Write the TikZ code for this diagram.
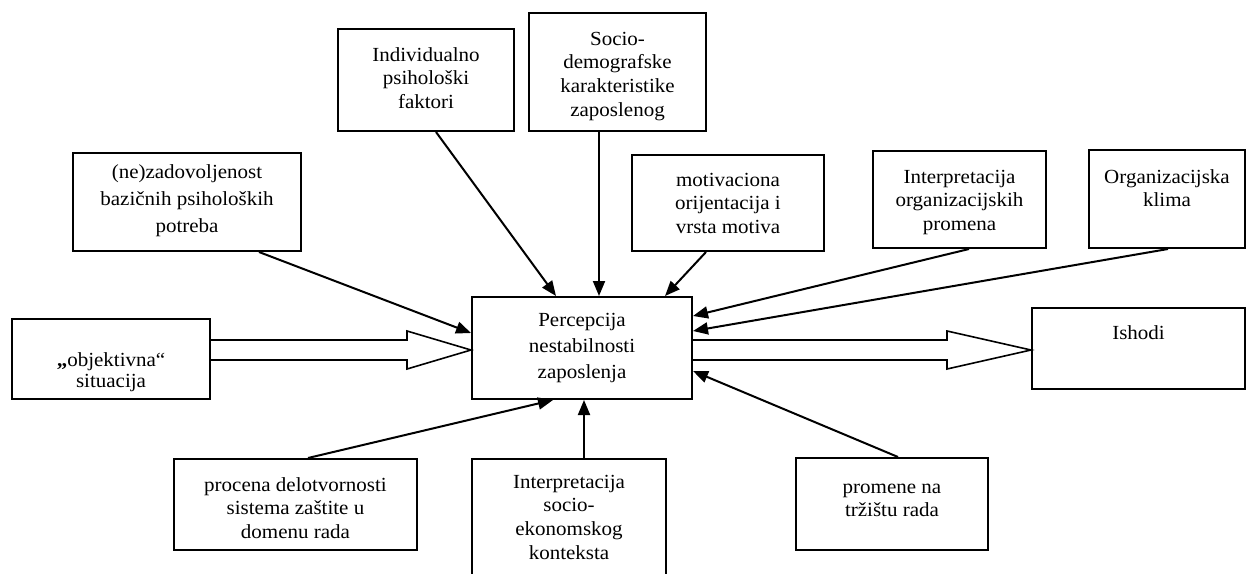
\documentclass[tikz,border=0pt]{standalone}
\usepackage{fontspec}
\setmainfont{Liberation Serif}[FakeStretch=1.05]
\usetikzlibrary{arrows.meta,calc}
% box text: [line spacing]{width}{height}{first baseline from top}{lines}
\newcommand{\bt}[5][23.7]{\parbox[c][#3pt][t]{#2pt}{\fontsize{20pt}{#1pt}\selectfont\centering\vspace*{\dimexpr#4pt-15pt\relax}\rule{0pt}{15pt}#5}}
\begin{document}
\begin{tikzpicture}[x=1pt,y=-1pt,
  bx/.style={draw, line width=2pt, inner sep=0pt, anchor=north west, fill=white},
  link/.style={line width=2pt, -{Triangle[length=15pt,width=12pt]}},
  hollow/.style={line width=1.6pt, line join=miter}]
\useasboundingbox (0,0) rectangle (1246,573);
\clip (0,0) rectangle (1246,573);

% boxes
\node[bx] (indiv) at (337,28) {\bt{176}{102}{32}{Individualno\\psihološki\\faktori}};
\node[bx] (socdem) at (528,12) {\bt{177}{118}{32}{Socio-\\demografske\\karakteristike\\zaposlenog}};
\node[bx] (nezad) at (72,152) {\bt[27]{228}{98}{25}{(ne)zadovoljenost\\bazičnih psiholoških\\potreba}};
\node[bx] (motiv) at (631,154) {\bt{192}{96}{31}{motivaciona\\orijentacija i\\vrsta motiva}};
\node[bx] (interp) at (872,150) {\bt{173}{97}{32}{Interpretacija\\organizacijskih\\promena}};
\node[bx] (klima) at (1088,149) {\bt{156}{98}{33}{Organizacijska\\klima}};
\node[bx] (obj) at (11,318) {\bt[21]{198}{80}{47}{\textbf{„}objektivna“\\situacija}};
\node[bx] (perc) at (471,296) {\bt[26]{220}{102}{29}{Percepcija\\nestabilnosti\\zaposlenja}};
\node[bx] (ishodi) at (1031,307) {\bt{213}{81}{31}{Ishodi}};
\node[bx] (procena) at (173,458) {\bt{243}{91}{32}{procena delotvornosti\\sistema zaštite u\\domenu rada}};
\node[bx] (socek) at (471,458) {\bt{194}{130}{29}{Interpretacija\\socio-\\ekonomskog\\konteksta}};
\node[bx] (trziste) at (795,457) {\bt{192}{92}{35}{promene na\\tržištu rada}};

% influences on the central box
\draw[link] ([xshift=10pt]indiv.south) -- ([xshift=-26pt]perc.north);
\draw[link] ([xshift=-18.5pt]socdem.south) -- ([xshift=17pt]perc.north);
\draw[link] ([xshift=-22pt]motiv.south) -- ([xshift=83pt]perc.north);
\draw[link] ([xshift=72pt]nezad.south) -- ([yshift=15pt]perc.west);
\draw[link] ([xshift=9.5pt]interp.south) -- ([yshift=32pt]perc.east);
\draw[link] ([xshift=1pt]klima.south) -- ([yshift=17pt]perc.east);
\draw[link] ([xshift=6pt]trziste.north) -- ([yshift=-23pt]perc.east);
\draw[link] ([xshift=12.5pt]procena.north) -- ([xshift=-29pt]perc.south);
\draw[link] ([xshift=15pt]socek.north) -- ([xshift=2pt]perc.south);

% hollow block arrows along the main axis
\coordinate (axis) at (0,350);
\draw[hollow] let \p1=(obj.east|-axis), \p2=(perc.west|-axis) in
  (\x1,\y1+10pt) -- (\x2-64pt,\y1+10pt) -- (\x2-64pt,\y1+19pt) -- (\p2)
  -- (\x2-64pt,\y1-19pt) -- (\x2-64pt,\y1-10pt) -- (\x1,\y1-10pt);
\draw[hollow] let \p1=(perc.east|-axis), \p2=(ishodi.west|-axis) in
  (\x1,\y1+10pt) -- (\x2-84pt,\y1+10pt) -- (\x2-84pt,\y1+19pt) -- (\p2)
  -- (\x2-84pt,\y1-19pt) -- (\x2-84pt,\y1-10pt) -- (\x1,\y1-10pt);
\end{tikzpicture}
\end{document}
